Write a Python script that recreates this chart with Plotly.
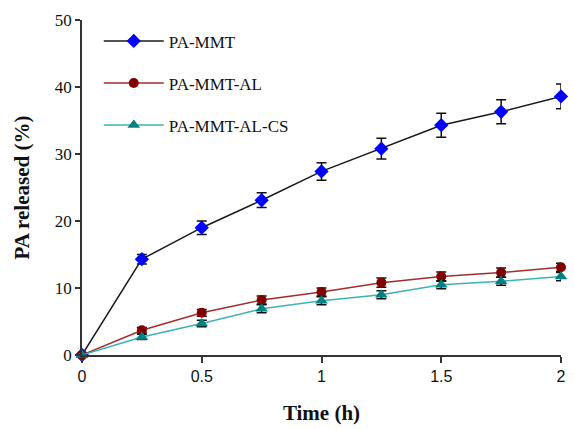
import plotly.graph_objects as go

time_h = [0, 0.25, 0.5, 0.75, 1.0, 1.25, 1.5, 1.75, 2.0]
pa_mmt = [0, 14.3, 19.0, 23.1, 27.4, 30.8, 34.3, 36.3, 38.6]
pa_mmt_err = [0, 0.7, 1.0, 1.1, 1.3, 1.55, 1.8, 1.8, 1.85]
pa_mmt_al = [0, 3.7, 6.3, 8.2, 9.4, 10.8, 11.7, 12.3, 13.1]
pa_mmt_al_err = [0, 0.4, 0.5, 0.6, 0.6, 0.7, 0.7, 0.7, 0.6]
pa_mmt_al_cs = [0, 2.7, 4.7, 6.9, 8.1, 9.0, 10.5, 11.0, 11.7]
pa_mmt_al_cs_err = [0, 0.4, 0.5, 0.6, 0.6, 0.6, 0.6, 0.6, 0.6]

series = [
    ("PA-MMT", pa_mmt, pa_mmt_err, "#1a1a1a", "#0000ff", "diamond", 11),
    ("PA-MMT-AL", pa_mmt_al, pa_mmt_al_err, "#a52a2a", "#800000", "circle", 10),
    ("PA-MMT-AL-CS", pa_mmt_al_cs, pa_mmt_al_cs_err, "#3cb3b3", "#008080", "triangle-up", 11),
]

fig = go.Figure()
for i, (name, ys, err, lc, mc, sym, sz) in enumerate(series):
    fig.add_trace(go.Scatter(
        x=time_h, y=ys, name=name, mode="lines+markers",
        legendgroup=name,
        line=dict(color=lc, width=1.5),
        marker=dict(color=mc, symbol=sym, size=sz),
        error_y=dict(type="data", array=err, visible=True, color="#111111", thickness=1.5, width=5),
        cliponaxis=False,
    ))

fig.update_layout(
    width=574, height=429,
    margin=dict(l=82, r=8, t=20, b=72),
    paper_bgcolor="white", plot_bgcolor="white",
    showlegend=True,
    legend=dict(
        x=0.035, y=0.99, xanchor="left", yanchor="top",
        font=dict(family="Liberation Serif, Times New Roman, serif", size=17, color="#111"),
        tracegroupgap=17, bgcolor="rgba(0,0,0,0)", itemwidth=60,
    ),
    xaxis=dict(
        range=[0, 2], tickvals=[0, 0.5, 1, 1.5, 2], ticktext=["0", "0.5", "1", "1.5", "2"],
        showgrid=False, zeroline=False, showline=True, linecolor="#333", linewidth=1.5,
        ticks="outside", ticklen=6, tickwidth=1.5, tickcolor="#333",
        tickfont=dict(family="Liberation Sans, Arial, sans-serif", size=16, color="#111"),
        title=dict(text="<b>Time (h)</b>", font=dict(family="Liberation Serif, Times New Roman, serif", size=21, color="#111"), standoff=21),
    ),
    yaxis=dict(
        range=[0, 50], tickvals=[0, 10, 20, 30, 40, 50],
        showgrid=False, zeroline=False, showline=True, linecolor="#333", linewidth=1.5,
        ticks="outside", ticklen=5, tickwidth=1.5, tickcolor="#333",
        tickfont=dict(family="Liberation Serif, Times New Roman, serif", size=17, color="#111"),
        title=dict(text="<b>PA released (%)</b>", font=dict(family="Liberation Serif, Times New Roman, serif", size=21, color="#111"), standoff=19),
    ),
)

fig.write_html("out.html")
